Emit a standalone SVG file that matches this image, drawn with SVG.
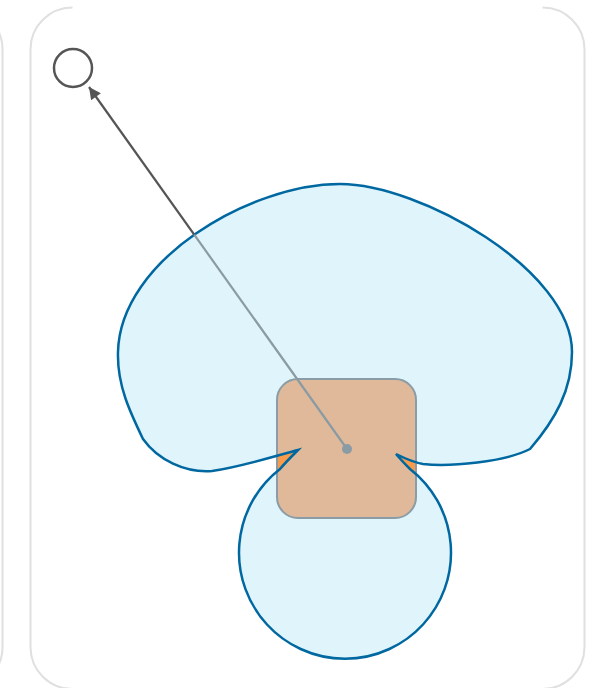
<svg xmlns="http://www.w3.org/2000/svg" width="590" height="688" viewBox="0 0 590 688">
<style>
.panel{fill:none;stroke:#e0e0e0;stroke-width:2}
.blobfill{fill:#e0f4fc;stroke:none}
.blobline{fill:none;stroke:#0068a0;stroke-width:2.5;stroke-linejoin:miter}
.sq-orange{fill:#f89c4c}
.sq-tan{fill:#dfb99a}
.sq-stroke{fill:none;stroke:#8a9ca6;stroke-width:2}
.edge{stroke:#555555;stroke-width:2.2;fill:none}
.edge-in{stroke:#8a9ba3;stroke-width:2.2;fill:none}
.start{fill:#ffffff;stroke:#555555;stroke-width:2.5}
</style>
<defs>
<path id="blobShape" d="M 298,450 C 272,457 240,467 212,471 C 185,473 158,460 143,439 C 130,412 117,385 118,352 C 120,260 250,184 340,184 C 420,184 572,270 572,352 C 572,390 555,420 530,449 C 505,462 450,467 423,464 C 412,462 404,458 396,454 C 401,460 405,464 410,469 A 106 106 0 1 1 280,469 C 285,463 291,457 298,450 Z"/>
<clipPath id="blobClip"><use href="#blobShape"/></clipPath>
<mask id="outsideBlob" maskUnits="userSpaceOnUse" x="0" y="0" width="590" height="688">
<rect x="0" y="0" width="590" height="688" fill="#ffffff"/>
<use href="#blobShape" fill="#000000"/>
</mask>
<marker id="arrow" viewBox="0 0 10 10" refX="10" refY="5" markerWidth="16" markerHeight="12" markerUnits="userSpaceOnUse" orient="auto">
<path d="M0,0 L10,5 L0,10 z" fill="#555555"/>
</marker>
</defs>
<g id="panels">
<path class="panel" d="M 72.5,7.5 A 42 42 0 0 0 30.5,49.5 L 30.5,647 A 42 42 0 0 0 72.5,689 L 542.5,689 A 42 42 0 0 0 584.5,647 L 584.5,49.5 A 42 42 0 0 0 542.5,7.5"/>
<rect class="panel" x="-600" y="7.5" width="602.5" height="681.5" rx="42"/>
</g>
<g id="start-node">
<circle class="start" cx="73" cy="68" r="19"/>
</g>
<g id="region-node">
<use href="#blobShape" class="blobfill"/>
</g>
<g id="square-node">
<rect class="sq-orange" x="277" y="379" width="139" height="139" rx="21"/>
<rect class="sq-tan" x="277" y="379" width="139" height="139" rx="21" clip-path="url(#blobClip)"/>
<rect class="sq-stroke" x="277" y="379" width="139" height="139" rx="21"/>
</g>
<g id="region-outline">
<use href="#blobShape" class="blobline"/>
</g>
<g id="connectors">
<g mask="url(#outsideBlob)">
<line class="edge" x1="347" y1="449" x2="89" y2="87" marker-end="url(#arrow)"/>
</g>
<line class="edge-in" x1="347" y1="449" x2="89" y2="87" clip-path="url(#blobClip)"/>
<circle cx="347" cy="449" r="5" fill="#8a9ba6"/>
</g>
</svg>
